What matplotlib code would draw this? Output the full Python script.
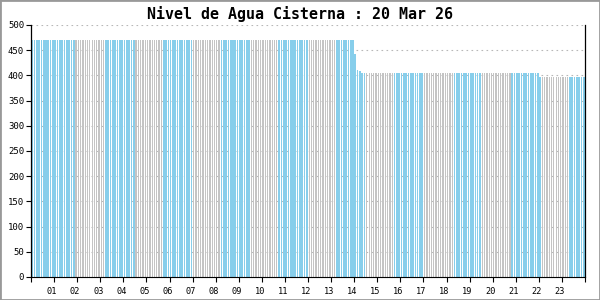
import matplotlib
matplotlib.use("Agg")
import matplotlib.pyplot as plt
from matplotlib.patches import Rectangle
from matplotlib.transforms import ScaledTranslation

titulo = "Nivel de Agua Cisterna : 20 Mar 26"

# lecturas del nivel (cm) cada 6 minutos, en tramos (valor, cantidad de lecturas)
tramos = [(470, 140), (442, 1), (411, 1), (408, 1), (405, 77), (397, 20)]
nivel = []
for valor, n in tramos:
    nivel += [valor] * n

horas = [f"{h:02d}" for h in range(1, 24)]
y_ticks = [0, 50, 100, 150, 200, 250, 300, 350, 400, 450, 500]

N = len(nivel)
paso = 24.0 / N
x = [(i + 0.5) * paso for i in range(N)]

azul = "#87ceeb"
gris = "#c4c4c4"
# franjas grises/azules que se ven en la imagen (cada ~2.5 h)
colores = []
anchos = []
for xi in x:
    if xi >= 1.95 and ((xi - 1.95) % 2.513) < 1.23:
        colores.append(gris)
        anchos.append(paso * 0.55)
    else:
        colores.append(azul)
        anchos.append(paso * 0.72)

fig = plt.figure(figsize=(6, 3), dpi=100)
ax = fig.add_axes([31 / 600, 23 / 300, 554 / 600, 252 / 300])

ax.bar(x, nivel, width=anchos, color=colores, linewidth=0, antialiased=False, zorder=2)

ax.set_xlim(0, 24)
ax.set_ylim(0, 500)
ax.set_yticks(y_ticks)
ax.set_yticklabels([str(v) for v in y_ticks], fontsize=6.5, family="DejaVu Sans Mono")
ax.set_xticks(range(0, 25))
ax.set_xticklabels([""] + horas + [""], fontsize=6.2, family="DejaVu Sans Mono")
ax.tick_params(axis="y", length=3.5, width=0.8, pad=1.5, direction="out")
ax.tick_params(axis="x", length=3.5, width=0.8, pad=4, direction="out")
desplaza = ScaledTranslation(-2 / 100, 0, fig.dpi_scale_trans)
for lab in ax.get_xticklabels():
    lab.set_transform(lab.get_transform() + desplaza)

for v in y_ticks[1:]:
    ax.axhline(v, color="#b8b8b8", lw=0.8, ls=(0, (1.5, 3)), zorder=1)

ax.spines["top"].set_visible(False)
ax.spines["left"].set_linewidth(0.9)
ax.spines["right"].set_linewidth(0.9)
ax.spines["bottom"].set_linewidth(0.8)
ax.spines["bottom"].set_linestyle((0, (0.75, 0.75)))

fig.text(0.5, 1 - 14 / 300, titulo, ha="center", va="center",
         fontsize=10.8, fontweight="bold", family="DejaVu Sans Mono")

fig.patches.append(Rectangle((0, 0), 1, 1, transform=fig.transFigure, fill=False,
                             edgecolor="#999999", lw=2.0))

fig.savefig("out.png", dpi=100)
